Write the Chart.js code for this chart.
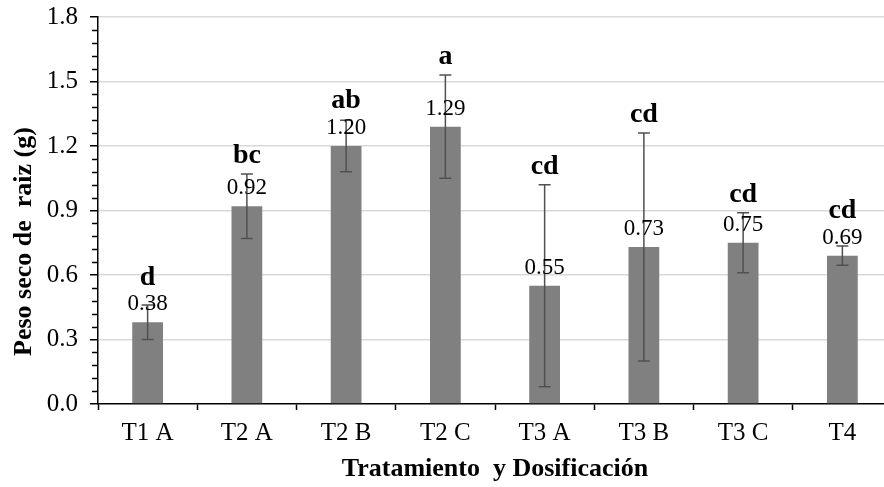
<!DOCTYPE html>
<html>
<head>
<meta charset="utf-8">
<script src="https://cdn.jsdelivr.net/npm/chart.js@4/dist/chart.umd.min.js"></script>
<style>
  html, body { margin: 0; padding: 0; background: #fff; overflow: hidden; }
  #wrap { width: 900px; height: 487px; }
</style>
</head>
<body>
<div id="wrap"><canvas id="rootChart" width="900" height="487"></canvas></div>
<script>
const labelsTrat = ["T1 A", "T2 A", "T2 B", "T2 C", "T3 A", "T3 B", "T3 C", "T4"];
const pesoRaiz = [0.38, 0.92, 1.2, 1.29, 0.55, 0.73, 0.75, 0.69];
const errorRaiz = [0.08, 0.15, 0.12, 0.24, 0.47, 0.53, 0.14, 0.045];
const letrasTukey = ["d", "bc", "ab", "a", "cd", "cd", "cd", "cd"];
const yTicks = [0, 0.3, 0.6, 0.9, 1.2, 1.5, 1.8];

const serif = "'Liberation Serif', 'Times New Roman', serif";

// error bars, value labels, letters, minor ticks and axis titles
const extras = {
  id: "extras",
  afterDatasetsDraw(chart) {
    const ctx = chart.ctx;
    const y = chart.scales.y;
    const area = chart.chartArea;
    const meta = chart.getDatasetMeta(0);

    ctx.save();
    // minor ticks on the y axis
    ctx.strokeStyle = "#000";
    ctx.lineWidth = 1.5;
    for (let i = 0; i <= 30; i++) {
      if (i % 5 === 0) continue;
      const py = Math.round(y.getPixelForValue(i * 0.06)) + 0.5;
      ctx.beginPath();
      ctx.moveTo(area.left - 6, py);
      ctx.lineTo(area.left, py);
      ctx.stroke();
    }

    meta.data.forEach((bar, i) => {
      const x = bar.x;
      const top = y.getPixelForValue(pesoRaiz[i] + errorRaiz[i]);
      const bot = y.getPixelForValue(pesoRaiz[i] - errorRaiz[i]);

      ctx.strokeStyle = "#505050";
      ctx.lineWidth = 1.5;
      ctx.beginPath();
      ctx.moveTo(x, top);
      ctx.lineTo(x, bot);
      ctx.moveTo(x - 6, top);
      ctx.lineTo(x + 6, top);
      ctx.moveTo(x - 6, bot);
      ctx.lineTo(x + 6, bot);
      ctx.stroke();

      const labelY = bar.y - 18;
      ctx.fillStyle = "#000";
      ctx.textAlign = "center";
      ctx.textBaseline = "middle";
      ctx.font = "23px " + serif;
      ctx.fillText(pesoRaiz[i].toFixed(2), x, labelY);

      const letterY = Math.min(top, labelY - 9) - 18;
      ctx.font = "bold 28px " + serif;
      ctx.fillText(letrasTukey[i], x, letterY);
    });

    // axis titles
    ctx.font = "bold 26px " + serif;
    ctx.fillStyle = "#000";
    ctx.fillText("Tratamiento  y Dosificación", (area.left + area.right) / 2, 469);
    ctx.translate(24, (area.top + area.bottom) / 2 + 31);
    ctx.rotate(-Math.PI / 2);
    ctx.fillText("Peso seco de  raiz (g)", 0, 0);
    ctx.restore();
  },
};

const configRaiz = {
  type: "bar",
  data: {
    labels: labelsTrat,
    datasets: [
      {
        label: "Peso seco de raiz",
        data: pesoRaiz,
        backgroundColor: "#808080",
        borderWidth: 0,
        barPercentage: 0.31,
        categoryPercentage: 1,
      },
    ],
  },
  plugins: [extras],
  options: {
    responsive: false,
    animation: false,
    layout: {
      padding: { top: 17, right: 8, left: 0, bottom: 0 },
    },
    scales: {
      x: {
        grid: {
          offset: true,
          drawOnChartArea: false,
          tickLength: 6,
          tickColor: "#000",
          tickWidth: 1.5,
        },
        border: { color: "#000", width: 1.5 },
        ticks: {
          color: "#000",
          padding: 8,
          font: { family: serif, size: 25 },
        },
        afterFit(scale) {
          scale.height = 83;
          scale.paddingLeft = 0;
          scale.paddingRight = 0;
        },
      },
      y: {
        min: 0,
        max: 1.8,
        afterBuildTicks(scale) {
          scale.ticks = yTicks.map((v) => ({ value: v }));
        },
        grid: {
          color: (c) => (c.tick && c.tick.value === 0 ? "rgba(0,0,0,0)" : "#d9d9d9"),
          lineWidth: 1.5,
          tickLength: 8,
          tickColor: "#000",
          tickWidth: 1.5,
        },
        border: { color: "#000", width: 1.5 },
        ticks: {
          color: "#000",
          padding: 12,
          font: { family: serif, size: 25 },
          callback: (v) => Number(v).toFixed(1),
        },
        afterFit(scale) {
          scale.width = 98;
          scale.paddingTop = 0;
          scale.paddingBottom = 0;
        },
      },
    },
    plugins: {
      legend: { display: false },
      tooltip: { enabled: false },
    },
  },
};

var raizChart = new Chart(document.getElementById("rootChart"), configRaiz);
</script>
</body>
</html>
